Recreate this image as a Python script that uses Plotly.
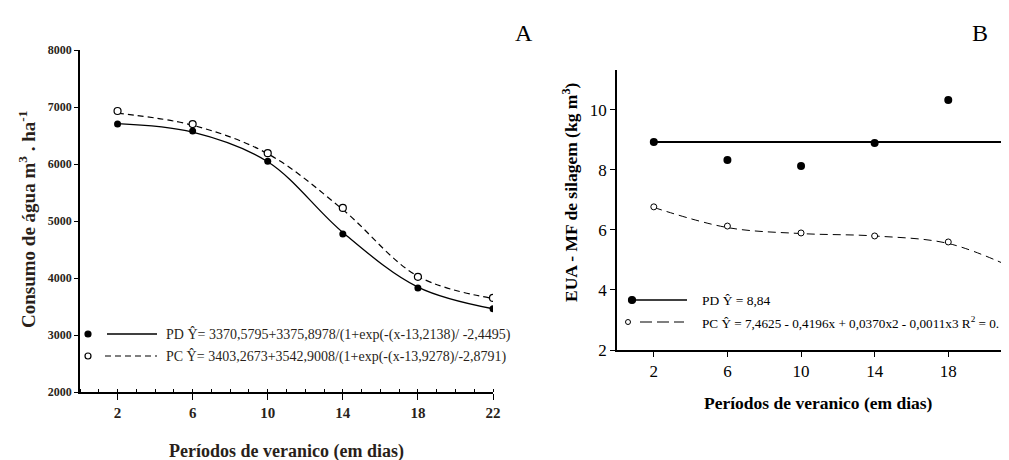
import plotly.graph_objects as go

# ---------------- data ----------------
# Panel A: water consumption (m3/ha) vs. dry-spell period (days)
days_a = [2, 6, 10, 14, 18, 22]
a_pd = [6700, 6580, 6050, 4770, 3825, 3460]
a_pc = [6930, 6700, 6190, 5230, 4020, 3650]
a_fit_pd = [6710, 6560, 6040, 4800, 3840, 3460]
a_fit_pc = [6890, 6680, 6180, 5200, 4030, 3640]

# Panel B: water use efficiency (kg m-3) vs. dry-spell period (days)
days_b = [2, 6, 10, 14, 18]
b_pd = [8.93, 8.33, 8.13, 8.90, 10.33]
b_pc = [6.77, 6.13, 5.90, 5.80, 5.60]
b_mean_x = [2, 21.3]
b_mean_pd = [8.93, 8.93]
b_fit_x = [2, 6, 10, 14, 18, 21.3]
b_fit_pc = [6.75, 6.08, 5.88, 5.80, 5.55, 4.80]

yticks_a = [2000, 3000, 4000, 5000, 6000, 7000, 8000]
xticks_b = [2, 6, 10, 14, 18]
yticks_b = [2, 4, 6, 8, 10]

W, H = 1009, 460
OFF = 8  # page body margin
SERIF = "Liberation Serif, Times New Roman, serif"


def px(x):
    return (x - OFF) / W


def py(y):
    return 1 - (y - OFF) / H


fig = go.Figure()

# ---- Panel A ----
fig.add_trace(go.Scatter(x=days_a, y=a_fit_pd, mode="lines", line=dict(color="black", width=1.3, shape="spline"),
                         xaxis="x", yaxis="y", showlegend=False, hoverinfo="skip"))
fig.add_trace(go.Scatter(x=days_a, y=a_fit_pc, mode="lines", line=dict(color="black", width=1.2, dash="6px,4px", shape="spline"),
                         xaxis="x", yaxis="y", showlegend=False, hoverinfo="skip"))
fig.add_trace(go.Scatter(x=days_a, y=a_pd, mode="markers", marker=dict(symbol="circle", size=7, color="black"),
                         xaxis="x", yaxis="y", showlegend=False))
fig.add_trace(go.Scatter(x=days_a, y=a_pc, mode="markers",
                         marker=dict(symbol="circle", size=7, color="white", line=dict(color="black", width=1.2)),
                         xaxis="x", yaxis="y", showlegend=False))

# ---- Panel B ----
fig.add_trace(go.Scatter(x=b_mean_x, y=b_mean_pd, mode="lines", line=dict(color="black", width=2),
                         xaxis="x2", yaxis="y2", showlegend=False, hoverinfo="skip"))
fig.add_trace(go.Scatter(x=b_fit_x, y=b_fit_pc, mode="lines", line=dict(color="black", width=1, dash="8px,5px", shape="spline"),
                         xaxis="x2", yaxis="y2", showlegend=False, hoverinfo="skip"))
fig.add_trace(go.Scatter(x=days_b, y=b_pd, mode="markers", marker=dict(symbol="circle", size=8, color="black"),
                         xaxis="x2", yaxis="y2", showlegend=False))
fig.add_trace(go.Scatter(x=days_b, y=b_pc, mode="markers",
                         marker=dict(symbol="circle", size=6, color="white", line=dict(color="black", width=1)),
                         xaxis="x2", yaxis="y2", showlegend=False))

axis_common = dict(showline=True, linecolor="black", linewidth=1.5, showgrid=False, zeroline=False,
                   ticks="outside", tickcolor="black", tickwidth=1.2)

fig.update_layout(
    width=W, height=H,
    margin=dict(l=0, r=0, t=0, b=0, autoexpand=False),
    paper_bgcolor="white", plot_bgcolor="white",
    xaxis=dict(axis_common, domain=[px(80), px(493)], range=[0, 22], tickmode="linear", tick0=2, dtick=4,
               ticklen=6, anchor="y", tickfont=dict(family=SERIF, size=15, color="#2a1f1a", weight="bold"),
               minor=dict(ticks="inside", dtick=1, tick0=0, ticklen=3, tickcolor="black", tickwidth=1.2,
                          showgrid=False)),
    yaxis=dict(axis_common, domain=[py(392), py(50)], range=[2000, 8000], tickvals=yticks_a, ticklen=4,
               anchor="x", tickfont=dict(family=SERIF, size=12, color="#2a1f1a", weight="bold")),
    xaxis2=dict(axis_common, domain=[px(617), px(1009)], range=[0, 21.3], tickvals=xticks_b, ticklen=5,
                anchor="y2", tickfont=dict(family=SERIF, size=17, color="black")),
    yaxis2=dict(axis_common, domain=[py(350), py(70)], range=[2, 11.33], tickvals=yticks_b, ticklen=5,
                anchor="x2", tickfont=dict(family=SERIF, size=17, color="black")),
)


def note(text, x, y, size, xanchor="center", angle=0, color="black"):
    return dict(text=text, x=px(x), y=py(y), xref="paper", yref="paper", showarrow=False,
                xanchor=xanchor, yanchor="middle", textangle=angle,
                font=dict(family=SERIF, size=size, color=color))


ann = [
    note("A", 524, 33, 24),
    note("B", 980, 33, 24),
    note("<b>Consumo de água m<sup>3</sup> . ha<sup>-1</sup></b>", 27, 220, 19, angle=-90, color="#2a1f1a"),
    note("<b>Períodos de veranico (em dias)</b>", 286, 451, 18, color="#2a1f1a"),
    note("<b>Períodos de veranico (em dias)</b>", 818, 403, 17.5),
    note("<b>EUA - MF de silagem (kg m<sup>3</sup>)</b>", 570, 192, 17.5, angle=-90),
    note("PD Ŷ= 3370,5795+3375,8978/(1+exp(-(x-13,2138)/ -2,4495)", 164, 334, 14, xanchor="left", color="#2a1f1a"),
    note("PC Ŷ= 3403,2673+3542,9008/(1+exp(-(x-13,9278)/-2,8791)", 164, 356, 14, xanchor="left", color="#2a1f1a"),
    note("PD Ŷ = 8,84", 700, 300, 13.5, xanchor="left"),
    note("PC Ŷ = 7,4625 - 0,4196x + 0,0370x2 - 0,0011x3 R<sup>2</sup> = 0.", 700, 322, 13.2, xanchor="left"),
]
fig.update_layout(annotations=ann)

# legend glyphs (paper coordinates)
shapes = []


def circle(cx, cy, r, filled, lw=1.2):
    return dict(type="circle", xref="paper", yref="paper",
                x0=px(cx - r), x1=px(cx + r), y0=py(cy + r), y1=py(cy - r),
                fillcolor="black" if filled else "white", line=dict(color="black", width=lw))


def hline(x0, x1, y, dash="solid", width=1.3):
    return dict(type="line", xref="paper", yref="paper", x0=px(x0), x1=px(x1), y0=py(y), y1=py(y),
                line=dict(color="black", width=width, dash=dash))


shapes += [circle(88, 334, 3, True), hline(107, 157, 334),
           circle(88, 356, 3, False), hline(105, 157, 356, dash="6px,4px", width=1.2),
           circle(632, 300, 3.5, True), hline(632, 687, 300, width=1.5),
           circle(628, 322, 2.5, False, lw=1), hline(640, 684, 322, dash="12px,5px", width=1.2)]
fig.update_layout(shapes=shapes)

fig.write_html("out.html")
